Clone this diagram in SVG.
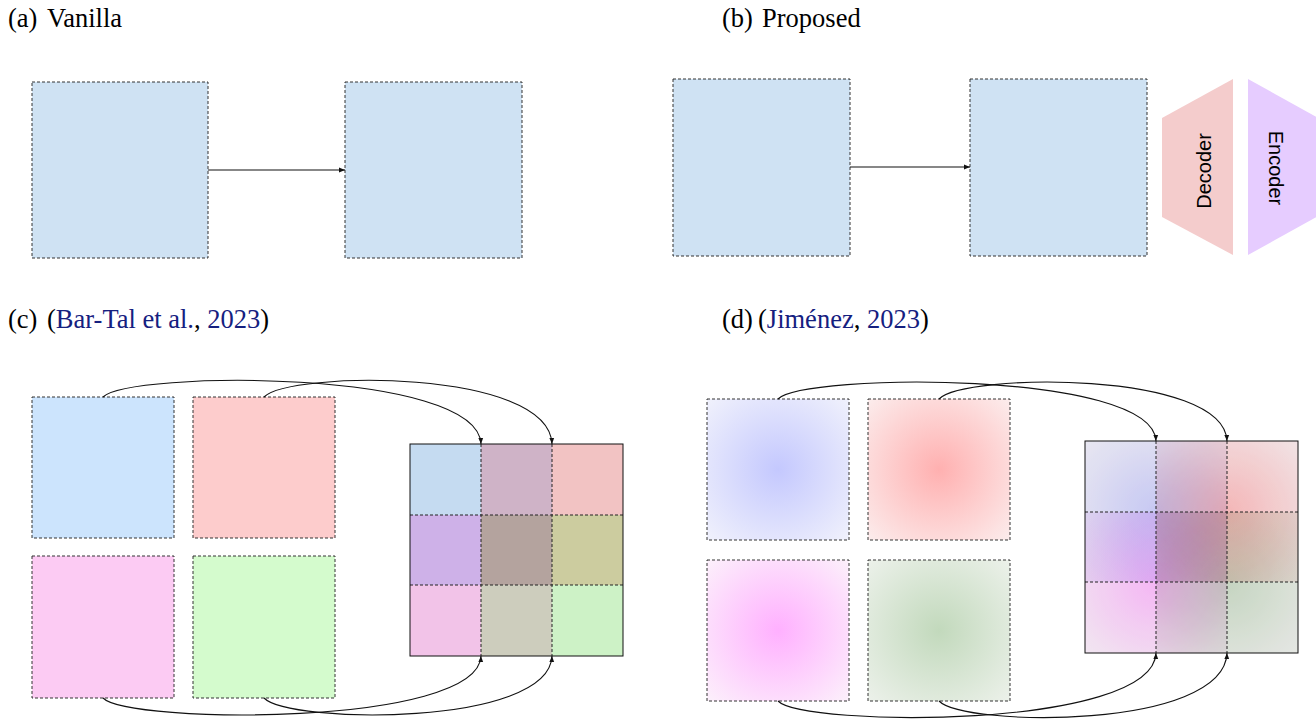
<svg xmlns="http://www.w3.org/2000/svg" width="1316" height="719" viewBox="0 0 1316 719">
  <style>
    .cap { font-family: "Liberation Serif", "Times New Roman", serif; font-size: 26.5px; fill: #000; }
    .cite { fill: #15207f; }
    .box { stroke: #333; stroke-width: 1; stroke-dasharray: 3 2; }
    .cell { stroke: #222; stroke-width: 1; stroke-dasharray: 3 2; fill: none; }
    .edge { fill: none; stroke: #111; stroke-width: 1.1; }
    .vlabel { font-family: "Liberation Sans", Arial, sans-serif; font-size: 20px; fill: #000; text-anchor: middle; dominant-baseline: central; }
    .mul { mix-blend-mode: multiply; opacity: 0.8; }
  </style>
  <defs>
    <marker id="arrow" viewBox="0 0 10 10" refX="10" refY="5" markerWidth="6" markerHeight="6" orient="auto" markerUnits="userSpaceOnUse">
      <path d="M0,1 L10,5 L0,9 z" fill="#111"/>
    </marker>
    <radialGradient id="gBlue" cx="0.5" cy="0.5" r="0.7">
      <stop offset="0" stop-color="#c4c8fe"/>
      <stop offset="1" stop-color="#f0f1fc"/>
    </radialGradient>
    <radialGradient id="gRed" cx="0.5" cy="0.5" r="0.7">
      <stop offset="0" stop-color="#ffb0b0"/>
      <stop offset="1" stop-color="#fcecec"/>
    </radialGradient>
    <radialGradient id="gPink" cx="0.5" cy="0.5" r="0.7">
      <stop offset="0" stop-color="#ffb0ff"/>
      <stop offset="1" stop-color="#fcf0fb"/>
    </radialGradient>
    <radialGradient id="gGreen" cx="0.5" cy="0.5" r="0.7">
      <stop offset="0" stop-color="#c2d9bc"/>
      <stop offset="1" stop-color="#ecf1ea"/>
    </radialGradient>
  </defs>

  <!-- panel captions -->
  <text class="cap" x="8" y="27">(a)<tspan x="47">Vanilla</tspan></text>
  <text class="cap" x="722" y="27">(b)<tspan x="762">Proposed</tspan></text>
  <text class="cap" x="8" y="328">(c)<tspan x="47">(</tspan><tspan class="cite">Bar-Tal et al.</tspan>, <tspan class="cite">2023</tspan>)</text>
  <text class="cap" x="722" y="328">(d)<tspan x="758">(</tspan><tspan class="cite">Jiménez</tspan>, <tspan class="cite">2023</tspan>)</text>

  <!-- (a) vanilla -->
  <g id="a-left"><rect class="box" x="32" y="82" width="176" height="176" fill="#cfe2f3"/></g>
  <g id="a-right"><rect class="box" x="345" y="82" width="177" height="176" fill="#cfe2f3"/></g>

  <!-- (b) proposed -->
  <g id="b-left"><rect class="box" x="673" y="79" width="177" height="177" fill="#cfe2f3"/></g>
  <g id="b-right"><rect class="box" x="970" y="79" width="177" height="177" fill="#cfe2f3"/></g>
  <g id="b-decoder">
    <polygon points="1162,118 1233,79 1233,255 1162,217" fill="#f4cccc"/>
    <text class="vlabel" transform="translate(1204,171) rotate(-90)">Decoder</text>
  </g>
  <g id="b-encoder">
    <polygon points="1248,79 1320,119 1320,215 1248,255" fill="#e6ccff"/>
    <text class="vlabel" transform="translate(1276,168) rotate(90)">Encoder</text>
  </g>

  <!-- (c) tiles -->
  <g id="c-blue"><rect class="box" x="32" y="397" width="142" height="141" fill="#cce4fd"/></g>
  <g id="c-red"><rect class="box" x="193" y="397" width="142" height="141" fill="#fdcccc"/></g>
  <g id="c-pink"><rect class="box" x="32" y="556" width="142" height="142" fill="#fccbf3"/></g>
  <g id="c-green"><rect class="box" x="193" y="556" width="142" height="142" fill="#d4fbcd"/></g>
  <g id="c-grid">
    <rect x="410" y="444" width="71" height="71" fill="#c5dbf1"/>
    <rect x="481" y="444" width="71" height="71" fill="#cfb3c7"/>
    <rect x="552" y="444" width="71" height="71" fill="#f2c3c3"/>
    <rect x="410" y="515" width="71" height="70" fill="#ceb1e8"/>
    <rect x="481" y="515" width="71" height="70" fill="#b4a39e"/>
    <rect x="552" y="515" width="71" height="70" fill="#cccc9f"/>
    <rect x="410" y="585" width="71" height="71" fill="#f2c3e8"/>
    <rect x="481" y="585" width="71" height="71" fill="#cdcdbd"/>
    <rect x="552" y="585" width="71" height="71" fill="#cdf2c6"/>
    <path class="cell" d="M481,444 V656 M552,444 V656 M410,515 H623 M410,585 H623"/>
    <rect x="410" y="444" width="213" height="212" fill="none" stroke="#111" stroke-width="1"/>
  </g>

  <!-- (d) tiles -->
  <g id="d-blue"><rect class="box" x="707" y="399" width="142" height="141" fill="url(#gBlue)"/></g>
  <g id="d-red"><rect class="box" x="868" y="399" width="142" height="141" fill="url(#gRed)"/></g>
  <g id="d-pink"><rect class="box" x="707" y="560" width="142" height="141" fill="url(#gPink)"/></g>
  <g id="d-green"><rect class="box" x="868" y="560" width="142" height="141" fill="url(#gGreen)"/></g>
  <g id="d-grid">
    <g style="isolation:isolate">
      <rect x="1085" y="441" width="213" height="212" fill="#f4f2f4"/>
      <rect class="mul" x="1085" y="441" width="142" height="141" fill="url(#gBlue)"/>
      <rect class="mul" x="1156" y="441" width="142" height="141" fill="url(#gRed)"/>
      <rect class="mul" x="1085" y="512" width="142" height="141" fill="url(#gPink)"/>
      <rect class="mul" x="1156" y="512" width="142" height="141" fill="url(#gGreen)"/>
    </g>
    <path class="cell" d="M1156,441 V653 M1227,441 V653 M1085,512 H1298 M1085,582 H1298"/>
    <rect x="1085" y="441" width="213" height="212" fill="none" stroke="#111" stroke-width="1"/>
  </g>

  <!-- connectors -->
  <g id="connectors">
    <path class="edge" d="M208,170 H345" marker-end="url(#arrow)"/>
    <path class="edge" d="M850,167 H970" marker-end="url(#arrow)"/>

    <path class="edge" d="M103,397 C128,371 478,368 481,444" marker-end="url(#arrow)"/>
    <path class="edge" d="M264,397 C289,371 549,368 552,444" marker-end="url(#arrow)"/>
    <path class="edge" d="M103,698 C128,724 478,727 481,656" marker-end="url(#arrow)"/>
    <path class="edge" d="M264,698 C289,724 549,727 552,656" marker-end="url(#arrow)"/>

    <path class="edge" d="M778,399 C803,373 1153,370 1156,441" marker-end="url(#arrow)"/>
    <path class="edge" d="M939,399 C964,373 1224,370 1227,441" marker-end="url(#arrow)"/>
    <path class="edge" d="M778,701 C803,727 1153,730 1156,653" marker-end="url(#arrow)"/>
    <path class="edge" d="M939,701 C964,727 1224,730 1227,653" marker-end="url(#arrow)"/>
  </g>
</svg>
